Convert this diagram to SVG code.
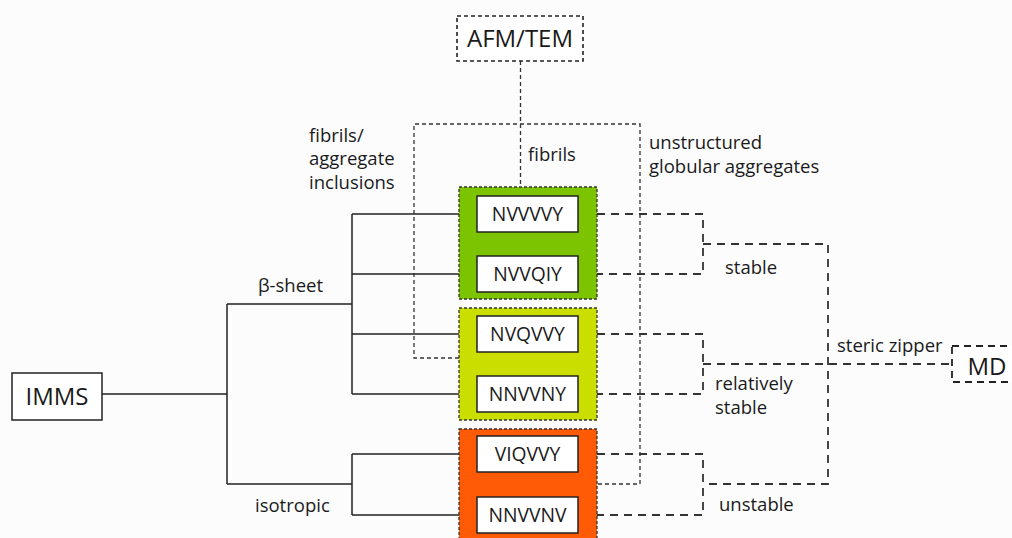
<svg xmlns="http://www.w3.org/2000/svg" width="1012" height="538" viewBox="0 0 1012 538">
<style>
text{font-family:"Open Sans","Noto Sans","Liberation Sans",sans-serif;fill:#1a1a1a}
.lbl{font-size:18.5px}
.seq{font-size:19.3px;text-anchor:middle}
.big{font-size:24px;text-anchor:middle}
.solid{fill:none;stroke:#222;stroke-width:1.5}
.fine{fill:none;stroke:#333;stroke-width:1.3;stroke-dasharray:4 3}
.dash{fill:none;stroke:#333;stroke-width:1.8;stroke-dasharray:8 6}
.grp{stroke:#333;stroke-width:1.3;stroke-dasharray:3 2}
.wbox{fill:#fff;stroke:#222;stroke-width:1.5}
</style>
<rect width="1012" height="538" fill="#fcfcfc"/>
<g id="connectors">
<path class="solid" d="M102 394H227M227 304V484M227 304H352M227 484H352M352 214V394M352 214H477M352 274H477M352 334H477M352 394H477M352 454V515M352 454H477M352 515H477"/>
<path class="solid" d="M578 214H592M578 274H592M578 334H592M578 394H592M578 454H592M578 515H592"/>
<path class="fine" d="M520.5 61V187M459 358H414V124H640V484H597"/>
<path class="dash" d="M597 214H703V274H597M703 244H828V484H703M597 334H703V394H597M703 364H952M597 454H703V515H597"/>
</g>
<g id="group-green"><rect class="grp" x="459" y="187" width="138" height="112" fill="#7cc400"/></g>
<g id="group-yellow"><rect class="grp" x="459" y="308" width="138" height="112" fill="#cade00"/></g>
<g id="group-orange"><rect class="grp" x="459" y="429" width="138" height="115" fill="#ff5a05"/></g>
<g id="n-NVVVVY"><rect class="wbox" x="477" y="196" width="101" height="36"/><text class="seq" x="527.5" y="221">NVVVVY</text></g>
<g id="n-NVVQIY"><rect class="wbox" x="477" y="256" width="101" height="36"/><text class="seq" x="527.5" y="281">NVVQIY</text></g>
<g id="n-NVQVVY"><rect class="wbox" x="477" y="316" width="101" height="36"/><text class="seq" x="527.5" y="341">NVQVVY</text></g>
<g id="n-NNVVNY"><rect class="wbox" x="477" y="376" width="101" height="36"/><text class="seq" x="527.5" y="401">NNVVNY</text></g>
<g id="n-VIQVVY"><rect class="wbox" x="477" y="436" width="101" height="36"/><text class="seq" x="527.5" y="461">VIQVVY</text></g>
<g id="n-NNVVNV"><rect class="wbox" x="477" y="497" width="101" height="36"/><text class="seq" x="527.5" y="522">NNVVNV</text></g>
<g id="n-IMMS"><rect class="wbox" x="12" y="373" width="90" height="47" stroke-width="2"/><text class="big" x="57" y="405">IMMS</text></g>
<g id="n-AFMTEM"><rect x="457" y="16" width="126" height="45" fill="#fff" stroke="#222" stroke-width="1.6" stroke-dasharray="4 3"/><text class="big" x="520" y="47">AFM/TEM</text></g>
<g id="n-MD"><rect x="952" y="346" width="70" height="36" fill="#fff" stroke="#222" stroke-width="1.8" stroke-dasharray="7 5"/><text class="big" x="987" y="375">MD</text></g>
<g id="labels">
<text class="lbl" x="309" y="142">fibrils/</text>
<text class="lbl" x="309" y="165">aggregate</text>
<text class="lbl" x="309" y="189">inclusions</text>
<text class="lbl" x="528" y="161">fibrils</text>
<text class="lbl" x="649" y="149">unstructured</text>
<text class="lbl" x="649" y="173">globular aggregates</text>
<text class="lbl" x="258" y="292">β-sheet</text>
<text class="lbl" x="255" y="512">isotropic</text>
<text class="lbl" x="725" y="274">stable</text>
<text class="lbl" x="837" y="352">steric zipper</text>
<text class="lbl" x="715" y="390">relatively</text>
<text class="lbl" x="715" y="414">stable</text>
<text class="lbl" x="719" y="511">unstable</text>
</g>
</svg>
